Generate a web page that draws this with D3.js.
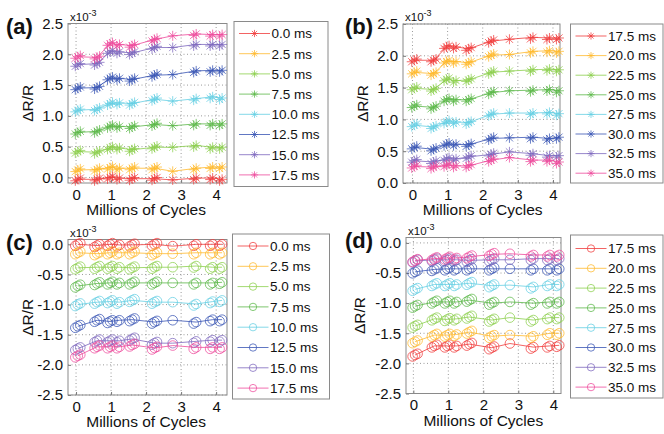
<!DOCTYPE html>
<html><head><meta charset="utf-8">
<script src="https://cdn.jsdelivr.net/npm/d3@7"></script>
<style>
body{margin:0;background:#fff}
svg{display:block}
text{font-family:"Liberation Sans",Arial,sans-serif;fill:#111}
</style>
</head><body>
<svg id="chart" width="664" height="434"></svg>
<script>
// Measurement positions (millions of cycles) and how many repeated samples overlap at each
const cycles = [0.05, 0.6, 0.97, 1.24, 1.6, 2.24, 2.76, 3.43, 3.9, 4.17];
const replicates = [3, 3, 3, 2, 3, 3, 1, 2, 2, 2];

const xTicks = [0, 1, 2, 3, 4];
const yTicksPos = [0, 0.5, 1, 1.5, 2, 2.5];
const yTicksNeg = [0, -0.5, -1, -1.5, -2, -2.5];

const labelsLow = ["0.0 ms", "2.5 ms", "5.0 ms", "7.5 ms", "10.0 ms", "12.5 ms", "15.0 ms", "17.5 ms"];
const labelsHigh = ["17.5 ms", "20.0 ms", "22.5 ms", "25.0 ms", "27.5 ms", "30.0 ms", "32.5 ms", "35.0 ms"];

// ΔR/R in units of 1e-3
const valuesA = [
  [-0.03, -0.03, 0.00, -0.01, -0.02, -0.02, -0.04, -0.01, -0.01, -0.03],
  [0.12, 0.13, 0.16, 0.15, 0.15, 0.15, 0.10, 0.15, 0.17, 0.17],
  [0.42, 0.41, 0.48, 0.48, 0.45, 0.49, 0.49, 0.52, 0.49, 0.49],
  [0.73, 0.75, 0.83, 0.83, 0.82, 0.86, 0.84, 0.87, 0.87, 0.87],
  [1.09, 1.11, 1.20, 1.21, 1.20, 1.27, 1.24, 1.28, 1.31, 1.29],
  [1.45, 1.46, 1.61, 1.61, 1.59, 1.66, 1.67, 1.73, 1.74, 1.74],
  [1.83, 1.85, 2.04, 2.04, 2.02, 2.11, 2.11, 2.16, 2.16, 2.16],
  [1.96, 1.95, 2.17, 2.16, 2.14, 2.24, 2.30, 2.33, 2.32, 2.32]
];
const valuesB = [
  [1.93, 1.93, 2.14, 2.14, 2.11, 2.23, 2.26, 2.29, 2.28, 2.28],
  [1.74, 1.72, 1.91, 1.91, 1.89, 2.01, 2.02, 2.07, 2.08, 2.07],
  [1.49, 1.47, 1.63, 1.61, 1.62, 1.74, 1.76, 1.78, 1.79, 1.78],
  [1.21, 1.19, 1.31, 1.31, 1.31, 1.42, 1.45, 1.46, 1.47, 1.45],
  [0.91, 0.88, 0.96, 0.96, 0.95, 1.08, 1.10, 1.10, 1.11, 1.09],
  [0.56, 0.53, 0.61, 0.61, 0.60, 0.70, 0.71, 0.72, 0.70, 0.72],
  [0.35, 0.33, 0.38, 0.38, 0.41, 0.45, 0.49, 0.46, 0.43, 0.43],
  [0.26, 0.25, 0.28, 0.27, 0.27, 0.36, 0.40, 0.36, 0.36, 0.33]
];
const valuesC = [
  [0.00, -0.02, 0.00, -0.01, -0.01, 0.00, -0.03, 0.00, 0.00, 0.00],
  [-0.14, -0.155, -0.14, -0.14, -0.14, -0.155, -0.155, -0.14, -0.14, -0.14],
  [-0.39, -0.38, -0.38, -0.38, -0.39, -0.38, -0.38, -0.36, -0.38, -0.38],
  [-0.69, -0.65, -0.64, -0.64, -0.64, -0.64, -0.64, -0.64, -0.64, -0.63],
  [-1.00, -0.96, -0.95, -0.96, -0.93, -0.96, -0.96, -0.99, -0.95, -0.93],
  [-1.36, -1.26, -1.28, -1.26, -1.25, -1.29, -1.26, -1.29, -1.25, -1.25],
  [-1.73, -1.60, -1.60, -1.60, -1.57, -1.64, -1.64, -1.61, -1.59, -1.59],
  [-1.85, -1.70, -1.70, -1.70, -1.67, -1.72, -1.68, -1.71, -1.71, -1.71]
];
const valuesD = [
  [-1.86, -1.71, -1.71, -1.71, -1.68, -1.74, -1.67, -1.73, -1.71, -1.70],
  [-1.64, -1.53, -1.53, -1.52, -1.48, -1.55, -1.53, -1.55, -1.50, -1.50],
  [-1.38, -1.26, -1.27, -1.26, -1.23, -1.28, -1.24, -1.28, -1.24, -1.24],
  [-1.05, -0.98, -0.98, -0.98, -0.95, -1.00, -0.98, -1.00, -0.98, -0.98],
  [-0.77, -0.69, -0.69, -0.69, -0.67, -0.71, -0.70, -0.73, -0.69, -0.69],
  [-0.48, -0.44, -0.43, -0.43, -0.43, -0.43, -0.43, -0.43, -0.43, -0.43],
  [-0.30, -0.28, -0.28, -0.28, -0.29, -0.28, -0.28, -0.26, -0.26, -0.26],
  [-0.29, -0.26, -0.25, -0.25, -0.23, -0.19, -0.18, -0.20, -0.20, -0.20]
];

const palette = ["#f03c3c", "#ffb92e", "#8ccf4d", "#5cb84a", "#66cfe3", "#3a55b4", "#7d68be", "#ee4b9c"];

const svg = d3.select("#chart");

// small pixel shifts used to show overlapping repeated samples
const repShift = [[0, 0], [-2.5, 1.5], [2.5, -1.2]];

function starPath(s) {
  const k = s * 0.72;
  return `M${-s},0H${s}M0,${-s}V${s}M${-k},${-k}L${k},${k}M${-k},${k}L${k},${-k}`;
}

function drawMarker(g, type, cx, cy, color, size) {
  if (type === "star") {
    g.append("path").attr("d", starPath(size))
      .attr("transform", `translate(${cx},${cy})`)
      .attr("fill", "none").attr("stroke", color).attr("stroke-width", 1)
      .attr("stroke-opacity", 0.75);
  } else {
    g.append("circle").attr("cx", cx).attr("cy", cy).attr("r", size)
      .attr("fill", "none").attr("stroke", color).attr("stroke-width", 1)
      .attr("stroke-opacity", 0.75);
  }
}

function drawPanel(p) {
  const g = svg.append("g");
  const x = d3.scaleLinear().domain(p.xDomain).range([p.left, p.right]);
  const y = d3.scaleLinear().domain(p.yDomain).range([p.bottom, p.top]);

  // dotted grid
  g.append("g").selectAll("line").data(xTicks).join("line")
    .attr("x1", d => x(d)).attr("x2", d => x(d))
    .attr("y1", p.top).attr("y2", p.bottom)
    .attr("stroke", "#9a9a9a").attr("stroke-width", 1).attr("stroke-dasharray", "1,2.5");
  g.append("g").selectAll("line").data(p.yTicks).join("line")
    .attr("x1", p.left).attr("x2", p.right)
    .attr("y1", d => y(d)).attr("y2", d => y(d))
    .attr("stroke", "#9a9a9a").attr("stroke-width", 1).attr("stroke-dasharray", "1,2.5");

  // axes
  const xa = g.append("g").attr("transform", `translate(0,${p.bottom})`)
    .call(d3.axisBottom(x).tickValues(xTicks).tickFormat(d3.format("d"))
      .tickSizeInner(-3).tickSizeOuter(0).tickPadding(6));
  const ya = g.append("g").attr("transform", `translate(${p.left},0)`)
    .call(d3.axisLeft(y).tickValues(p.yTicks).tickFormat(d => d.toFixed(1))
      .tickSizeInner(-3).tickSizeOuter(0).tickPadding(5));
  [xa, ya].forEach(a => {
    a.select(".domain").remove();
    a.selectAll("line").attr("stroke", "#777");
    a.selectAll("text").style("font-size", "15px").attr("fill", "#111")
      .style("font-family", "'Liberation Sans',Arial,sans-serif");
  });

  // plot frame
  g.append("rect").attr("x", p.left).attr("y", p.top)
    .attr("width", p.right - p.left).attr("height", p.bottom - p.top)
    .attr("fill", "none").attr("stroke", "#8a8a8a").attr("stroke-width", 1);

  // series
  const line = d3.line().x((d, j) => x(cycles[j])).y(d => y(d));
  p.values.forEach((vals, i) => {
    const col = palette[i];
    g.append("path").attr("d", line(vals)).attr("fill", "none")
      .attr("stroke", col).attr("stroke-width", 1).attr("stroke-opacity", 0.8);
    vals.forEach((v, j) => {
      for (let r = 0; r < replicates[j]; r++) {
        drawMarker(g, p.marker, x(cycles[j]) + repShift[r][0], y(v) + repShift[r][1], col, p.markerSize);
      }
    });
  });

  // axis titles
  g.append("text").attr("x", (x(0) + x(4)) / 2).attr("y", p.bottom + 32)
    .attr("text-anchor", "middle").style("font-size", "15.5px").text("Millions of Cycles");
  g.append("text")
    .attr("transform", `translate(${p.left - p.titleGap},${(p.top + p.bottom) / 2}) rotate(-90)`)
    .attr("text-anchor", "middle").style("font-size", "15.5px").text("ΔR/R");

  // exponent
  const ex = g.append("text").attr("x", p.left + 2).attr("y", p.top - 3).style("font-size", "11.5px");
  ex.append("tspan").text("x10");
  ex.append("tspan").attr("dy", -5).style("font-size", "9px").text("-3");

  // panel tag
  g.append("text").attr("x", p.tagX).attr("y", p.top + 10)
    .style("font-size", "22px").style("font-weight", "bold").text(p.tag);

  // legend
  const L = p.legend;
  g.append("rect").attr("x", L.x).attr("y", L.y).attr("width", L.w).attr("height", L.h)
    .attr("fill", "#fff").attr("stroke", "#8a8a8a").attr("stroke-width", 1);
  p.labels.forEach((lab, i) => {
    const ly = L.first + i * L.step;
    const col = palette[i];
    g.append("line").attr("x1", L.x + 5).attr("x2", L.x + 36).attr("y1", ly).attr("y2", ly)
      .attr("stroke", col).attr("stroke-width", 1).attr("stroke-opacity", 0.8);
    drawMarker(g, p.marker, L.x + 20.5, ly, col, p.marker === "star" ? 3.6 : 3.7);
    g.append("text").attr("x", L.x + 37.5).attr("y", ly).attr("dy", "0.36em")
      .style("font-size", "13.5px").text(lab);
  });
}

drawPanel({
  tag: "(a)", tagX: 6, marker: "star", markerSize: 5, titleGap: 35,
  left: 68, right: 227, top: 23.5, bottom: 183,
  xDomain: [-0.23, 4.31], yDomain: [-0.09, 2.5], yTicks: yTicksPos,
  values: valuesA, labels: labelsLow,
  legend: { x: 234, y: 21.5, w: 94, h: 165, first: 33.5, step: 20.2 }
});
drawPanel({
  tag: "(b)", tagX: 345, marker: "star", markerSize: 5, titleGap: 35,
  left: 403, right: 560, top: 24, bottom: 183,
  xDomain: [-0.27, 4.2], yDomain: [0, 2.5], yTicks: yTicksPos,
  values: valuesB, labels: labelsHigh,
  legend: { x: 570.5, y: 24, w: 92.5, h: 159, first: 36, step: 19.6 }
});
drawPanel({
  tag: "(c)", tagX: 6, marker: "circle", markerSize: 4.8, titleGap: 35,
  left: 68, right: 227, top: 239.5, bottom: 395,
  xDomain: [-0.23, 4.31], yDomain: [-2.5, 0.08], yTicks: yTicksNeg,
  values: valuesC, labels: labelsLow,
  legend: { x: 232.5, y: 234, w: 97, h: 165, first: 246, step: 20.3 }
});
drawPanel({
  tag: "(d)", tagX: 345, marker: "circle", markerSize: 4.8, titleGap: 41,
  left: 406, right: 561, top: 237.5, bottom: 393.5,
  xDomain: [-0.21, 4.22], yDomain: [-2.5, 0.09], yTicks: yTicksNeg,
  values: valuesD, labels: labelsHigh,
  legend: { x: 570.5, y: 235, w: 92.5, h: 163, first: 248.5, step: 19.8 }
});
</script>
</body></html>
